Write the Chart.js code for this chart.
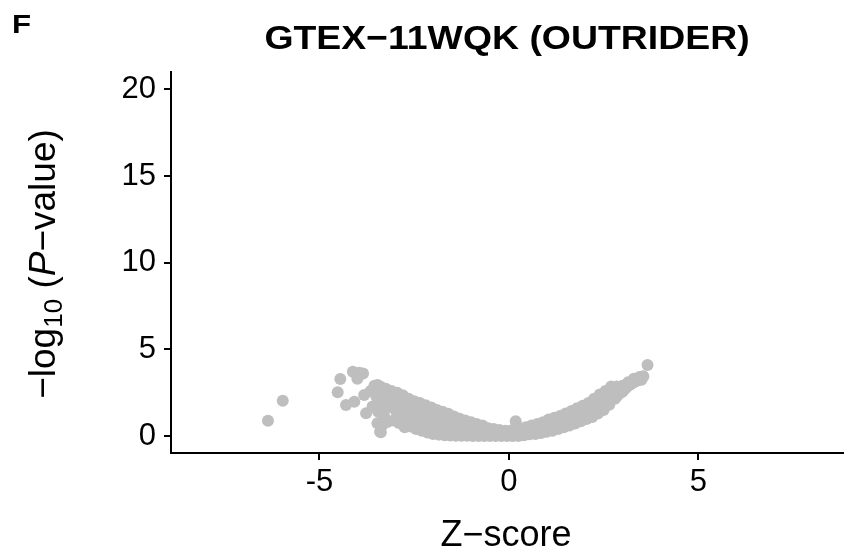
<!DOCTYPE html>
<html>
<head>
<meta charset="utf-8">
<script src="https://cdn.jsdelivr.net/npm/chart.js@4/dist/chart.umd.min.js"></script>
<style>
html,body{margin:0;padding:0;background:#fff;}
canvas{display:block;}
</style>
</head>
<body>
<canvas id="volcano" width="849" height="553"></canvas>
<script>
// panel text
const panelLetter='F';
const chartTitle='GTEX\u221211WQK (OUTRIDER)';
const xTitle='Z\u2212score';
const xTicks=[-5,0,5];
const yTicks=[0,5,10,15,20];

// points: z-score and -log10(P)
const zScore=[
 // outliers, left
 -6.36,-5.97,-4.45,-4.52,-4.12,-3.95,-3.85,-4.0,-4.3,-4.08,-3.82,-3.65,-3.47,-3.77,-3.6,-3.47,-3.38,-3.21,
 // upper edge of the cloud
 -3.55,-3.4,-3.25,-3.1,-2.95,-2.8,-2.65,-2.5,-2.35,-2.2,-2.05,-1.9,-1.75,-1.6,-1.45,-1.3,-1.15,-1.0,-0.85,-0.7,-0.55,-0.4,-0.25,-0.1,0.05,0.18,0.3,0.45,0.6,0.75,0.9,1.05,1.2,1.35,1.5,1.65,1.8,1.95,2.1,2.25,2.4,2.55,2.7,2.85,3.0,3.15,3.3,3.45,3.55,3.66,
 // lower edge
 -3.4,-3.35,-3.2,-3.05,-2.9,-2.75,-2.6,-2.45,-2.3,-2.15,-2.0,-1.85,-1.7,-1.55,-1.4,-1.25,-1.1,-0.95,-0.8,-0.65,-0.5,-0.35,-0.2,-0.05,0.1,0.25,0.4,0.55,0.7,0.85,1.0,1.15,1.3,1.45,1.6,1.75,1.9,2.05,2.2,2.35,2.5,2.65,2.8,2.95,3.1,3.25,
 // inside, left
 -3.5,-3.35,-3.2,-3.05,-2.9,-2.75,-2.6,-2.45,-2.3,-2.15,-2.0,-1.85,-1.7,-1.55,-1.4,-1.25,-1.1,-0.95,-0.8,
 -3.45,-3.3,-3.15,-3.0,-2.85,-2.7,-2.55,-2.4,-2.25,-2.1,-1.95,-1.8,-1.65,-1.5,
 -2.6,-2.45,-2.3,-2.15,-2.0,-1.85,-1.7,-1.55,-1.4,-1.25,-1.1,-0.95,-0.8,-0.65,-0.5,-0.35,-0.2,
 -3.4,-3.25,-3.1,-2.95,-2.8,
 // inside, right
 1.2,1.5,1.8,2.0,2.2,2.4,2.6,2.75,2.9,3.05,3.2,3.4,
 0.3,0.5,0.65,0.8,0.95,1.1,1.35,1.65,1.95,2.1,2.3,2.5,2.65,2.85,3.0,3.3,3.5
];
const negLog10P=[
 0.88,2.04,3.29,2.52,3.71,3.65,3.6,3.3,1.79,1.98,2.36,2.6,2.94,1.31,1.7,0.73,0.21,0.82,
 2.9,2.85,2.72,2.6,2.5,2.35,2.15,2.0,1.9,1.78,1.65,1.5,1.4,1.28,1.12,1.0,0.9,0.8,0.7,0.6,0.45,0.4,0.35,0.3,0.32,0.85,0.45,0.5,0.6,0.7,0.8,0.95,1.05,1.15,1.3,1.45,1.6,1.75,1.9,2.15,2.4,2.6,2.85,2.85,2.9,3.1,3.3,3.4,3.45,4.09,
 0.25,0.6,0.82,0.9,0.75,0.5,0.55,0.4,0.3,0.2,0.12,0.08,0.05,0.03,0.02,0.01,0.01,0,0,0,0,0,0,0,0,0,0.05,0.1,0.12,0.18,0.25,0.3,0.4,0.5,0.6,0.72,0.85,0.98,1.1,1.3,1.5,1.8,2.15,2.5,2.8,3.05,
 2.3,2.0,1.7,1.6,1.5,1.35,1.3,1.15,1.05,0.95,0.85,0.7,0.6,0.55,0.5,0.4,0.35,0.3,0.25,
 1.4,1.2,2.2,2.05,1.9,1.75,1.6,1.5,1.4,1.3,1.15,1.0,0.9,0.8,
 0.9,0.8,0.7,0.6,0.5,0.42,0.35,0.3,0.25,0.2,0.18,0.15,0.12,0.3,0.22,0.18,0.15,
 2.5,2.35,2.0,1.2,1.1,
 0.65,0.9,1.15,1.3,1.55,1.8,2.2,2.4,2.6,2.7,2.95,3.2,
 0.2,0.28,0.35,0.42,0.5,0.6,0.78,1.0,1.25,1.45,1.65,2.0,2.15,2.3,2.55,3.1,3.25
];

const FONT='"Liberation Sans", Arial, Helvetica, sans-serif';

// titles drawn by hand: the y title needs a subscript and an italic P
const textPlugin={
 id:'panelText',
 afterDraw(chart){
  const ctx=chart.ctx;
  ctx.save();
  ctx.fillStyle='#000';
  ctx.textBaseline='alphabetic';
  // panel letter
  ctx.font='bold 26px '+FONT;
  ctx.textAlign='left';
  ctx.save();
  ctx.translate(12,32.5);
  ctx.scale(1.2,1);
  ctx.fillText(panelLetter,0,0);
  ctx.restore();
  // main title
  ctx.font='bold 34px '+FONT;
  ctx.textAlign='center';
  ctx.save();
  ctx.translate(507,49);
  ctx.scale(1.1,1);
  ctx.fillText(chartTitle,0,0);
  ctx.restore();
  // x title
  ctx.font='36px '+FONT;
  ctx.fillText(xTitle,506,546);
  // y title, rotated
  const parts=[
   {t:'\u2212log',f:'37px '+FONT,dy:0},
   {t:'10',f:'26px '+FONT,dy:7},
   {t:' (',f:'37px '+FONT,dy:0},
   {t:'P',f:'italic 37px '+FONT,dy:0},
   {t:'\u2212value)',f:'37px '+FONT,dy:0}
  ];
  let total=0;
  parts.forEach(p=>{ctx.font=p.f;p.w=ctx.measureText(p.t).width;total+=p.w;});
  ctx.translate(55,264);
  ctx.rotate(-Math.PI/2);
  ctx.textAlign='left';
  let x=-total/2;
  parts.forEach(p=>{ctx.font=p.f;ctx.fillText(p.t,x,p.dy);x+=p.w;});
  ctx.restore();
 }
};

const axisStyle={
 grid:{display:true,drawOnChartArea:false,drawTicks:true,tickLength:7,color:'#000',lineWidth:2},
 border:{display:true,color:'#000',width:2},
 ticks:{color:'#000',font:{family:FONT,size:31}}
};

new Chart(document.getElementById('volcano'),{
 type:'scatter',
 data:{datasets:[{
  data:zScore.map((z,i)=>({x:z,y:negLog10P[i]})),
  backgroundColor:'#bebebe',
  borderWidth:0,
  pointRadius:6,
  pointHoverRadius:6
 }]},
 options:{
  responsive:false,
  animation:false,
  events:[],
  layout:{padding:{top:72,right:4,bottom:0,left:0}},
  plugins:{legend:{display:false},tooltip:{enabled:false},title:{display:false}},
  scales:{
   x:{type:'linear',position:'bottom',min:-8.92,max:8.82,
    grid:axisStyle.grid,border:axisStyle.border,
    ticks:{...axisStyle.ticks,padding:4,maxRotation:0},
    afterBuildTicks:s=>{s.ticks=xTicks.map(v=>({value:v}));},
    afterFit:s=>{s.height=100;}
   },
   y:{type:'linear',position:'left',min:-0.98,max:21,
    grid:axisStyle.grid,border:axisStyle.border,
    ticks:{...axisStyle.ticks,padding:8},
    afterBuildTicks:s=>{s.ticks=yTicks.map(v=>({value:v}));},
    afterFit:s=>{s.width=171;}
   }
  }
 },
 plugins:[textPlugin]
});
</script>
</body>
</html>
